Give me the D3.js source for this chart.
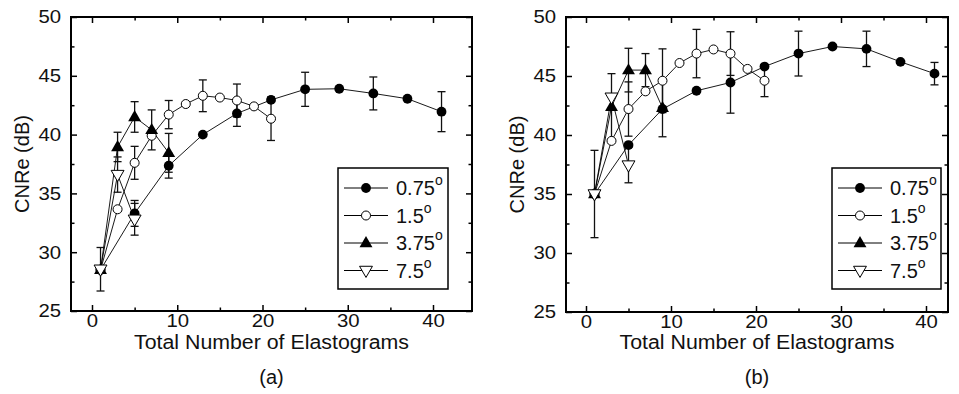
<!DOCTYPE html>
<html lang="en">
<head>
<meta charset="utf-8">
<title>CNRe vs elastograms</title>
<script src="https://cdnjs.cloudflare.com/ajax/libs/d3/7.8.5/d3.min.js"></script>
<style>
  html, body { margin: 0; padding: 0; background: #fff; }
  svg { display: block; font-family: "Liberation Sans", Arial, sans-serif; }
  .tick text { font-size: 18.5px; fill: #111; }
  .title { font-size: 20px; fill: #111; }
  .leg { font-size: 20px; fill: #111; }
</style>
</head>
<body>
<div id="chart"></div>
<script>
// ---- data ----
const xTicks = [0, 10, 20, 30, 40];
const yTicks = [25, 30, 35, 40, 45, 50];
const seriesNames = ["0.75", "1.5", "3.75", "7.5"];

const x075 = [1, 5, 9, 13, 17, 21, 25, 29, 33, 37, 41];
const x15 = [1, 3, 5, 7, 9, 11, 13, 15, 17, 19, 21];
const x375 = [1, 3, 5, 7, 9];
const x75 = [1, 3, 5];

// panel (a)
const a075 = [28.5, 33.3, 37.35, 40.0, 41.8, 42.95, 43.85, 43.9, 43.5, 43.05, 41.95];
const a075err = [null, 1.1, 1.05, null, 1.1, null, 1.45, null, 1.4, null, 1.7];
const a15 = [28.5, 33.65, 37.6, 39.9, 41.7, 42.6, 43.3, 43.15, 42.9, 42.4, 41.35];
const a15err = [null, null, 1.4, null, 1.2, null, 1.35, null, 1.4, null, 1.85];
const a375 = [28.5, 38.95, 41.5, 40.4, 38.45];
const a375err = [null, 1.25, 1.3, 1.7, 1.65];
const a75 = [28.55, 36.6, 32.8];
const a75err = [1.85, 1.5, 1.35];

// panel (b)
const b075 = [35.0, 39.15, 42.2, 43.75, 44.45, 45.8, 46.9, 47.5, 47.3, 46.2, 45.2];
const b075err = [null, null, 2.35, null, 2.6, null, 1.9, null, 1.5, null, 0.95];
const b15 = [35.0, 39.5, 42.2, 43.7, 44.6, 46.1, 46.9, 47.25, 46.9, 45.6, 44.6];
const b15err = [null, null, 2.3, null, 2.7, null, 2.05, null, 1.85, null, 1.35];
const b375 = [35.0, 42.4, 45.5, 45.5, 42.3];
const b375err = [null, 2.8, 1.85, 1.4, null];
const b75 = [35.0, 43.2, 37.45];
const b75err = [3.7, null, 1.5];

function build(xs, ys, es) {
  return xs.map(function(x, i) { return {x: x, y: ys[i], e: es[i]}; });
}

const panels = [
  {label: "(a)", left: 71, right: 472, top: 17, bottom: 311, x0: 92, x40: 433,
   legX: 338, legW: 110, ytitle: 29,
   series: [build(x075, a075, a075err), build(x15, a15, a15err),
            build(x375, a375, a375err), build(x75, a75, a75err)]},
  {label: "(b)", left: 566, right: 948, top: 17, bottom: 312, x0: 586, x40: 926,
   legX: 832, legW: 109, ytitle: 524,
   series: [build(x075, b075, b075err), build(x15, b15, b15err),
            build(x375, b375, b375err), build(x75, b75, b75err)]}
];

const W = 959, H = 394;
const svg = d3.select("#chart").append("svg")
  .attr("width", W).attr("height", H);

const triUp = d3.symbol().type(d3.symbolTriangle).size(72);

function drawMarker(g, k, cx, cy) {
  if (k === 0) {
    g.append("circle").attr("cx", cx).attr("cy", cy).attr("r", 4.9)
      .attr("fill", "#000");
  } else if (k === 1) {
    g.append("circle").attr("cx", cx).attr("cy", cy).attr("r", 4.5)
      .attr("fill", "#fff").attr("stroke", "#000").attr("stroke-width", 1);
  } else if (k === 2) {
    g.append("path").attr("d", triUp())
      .attr("transform", "translate(" + cx + "," + (cy + 0.5) + ")")
      .attr("fill", "#000");
  } else {
    g.append("path").attr("d", triUp())
      .attr("transform", "translate(" + cx + "," + (cy - 0.5) + ") rotate(180)")
      .attr("fill", "#fff").attr("stroke", "#000").attr("stroke-width", 1);
  }
}

panels.forEach(function(p) {
  const x = d3.scaleLinear().domain([0, 40]).range([p.x0, p.x40]);
  const y = d3.scaleLinear().domain([25, 50]).range([p.bottom, p.top]);
  const g = svg.append("g");

  // minor ticks
  const xMinor = d3.range(5, 45, 10).filter(function(v) { return x(v) < p.right; });
  const yMinor = d3.range(27.5, 50, 5);

  g.append("g").attr("transform", "translate(0," + p.bottom + ")")
    .call(d3.axisBottom(x).tickValues(xTicks).tickSize(-6).tickSizeOuter(0).tickPadding(3))
    .call(function(a) { a.select(".domain").remove(); });
  g.append("g").attr("transform", "translate(0," + p.bottom + ")")
    .call(d3.axisBottom(x).tickValues(xMinor).tickSize(-3.5).tickFormat("").tickSizeOuter(0))
    .call(function(a) { a.select(".domain").remove(); });
  g.append("g").attr("transform", "translate(0," + p.top + ")")
    .call(d3.axisTop(x).tickValues(xTicks).tickSize(-6).tickFormat("").tickSizeOuter(0))
    .call(function(a) { a.select(".domain").remove(); });
  g.append("g").attr("transform", "translate(0," + p.top + ")")
    .call(d3.axisTop(x).tickValues(xMinor).tickSize(-3.5).tickFormat("").tickSizeOuter(0))
    .call(function(a) { a.select(".domain").remove(); });

  g.append("g").attr("transform", "translate(" + p.left + ",0)")
    .call(d3.axisLeft(y).tickValues(yTicks).tickSize(-6).tickSizeOuter(0).tickPadding(9))
    .call(function(a) { a.select(".domain").remove(); });
  g.append("g").attr("transform", "translate(" + p.left + ",0)")
    .call(d3.axisLeft(y).tickValues(yMinor).tickSize(-3.5).tickFormat("").tickSizeOuter(0))
    .call(function(a) { a.select(".domain").remove(); });
  g.append("g").attr("transform", "translate(" + p.right + ",0)")
    .call(d3.axisRight(y).tickValues(yTicks).tickSize(-6).tickFormat("").tickSizeOuter(0))
    .call(function(a) { a.select(".domain").remove(); });
  g.append("g").attr("transform", "translate(" + p.right + ",0)")
    .call(d3.axisRight(y).tickValues(yMinor).tickSize(-3.5).tickFormat("").tickSizeOuter(0))
    .call(function(a) { a.select(".domain").remove(); });

  g.selectAll(".tick line").attr("stroke", "#000").attr("stroke-width", 1.5);
  // the printed figure's digits are a touch wider than Liberation Sans
  g.selectAll(".tick text").attr("transform", "scale(1.1,1)");

  // frame
  g.append("rect")
    .attr("x", p.left).attr("y", p.top)
    .attr("width", p.right - p.left).attr("height", p.bottom - p.top)
    .attr("fill", "none").attr("stroke", "#000").attr("stroke-width", 2);

  // titles
  const cx = (p.left + p.right) / 2;
  g.append("text").attr("class", "title").attr("x", cx).attr("y", 349)
    .attr("text-anchor", "middle")
    .attr("textLength", 275).attr("lengthAdjust", "spacingAndGlyphs")
    .text("Total Number of Elastograms");
  g.append("text").attr("class", "title").attr("x", cx).attr("y", 384)
    .attr("text-anchor", "middle").text(p.label);
  g.append("text").attr("class", "title")
    .attr("transform", "translate(" + p.ytitle + "," + ((p.top + p.bottom) / 2) + ") rotate(-90)")
    .attr("text-anchor", "middle").text("CNRe (dB)");

  // lines
  const line = d3.line().x(function(d) { return x(d.x); }).y(function(d) { return y(d.y); });
  p.series.forEach(function(s) {
    g.append("path").datum(s).attr("d", line)
      .attr("fill", "none").attr("stroke", "#000").attr("stroke-width", 0.9);
  });

  // error bars
  p.series.forEach(function(s) {
    s.filter(function(d) { return d.e != null; }).forEach(function(d) {
      const px = x(d.x), y1 = y(d.y + d.e), y2 = y(d.y - d.e);
      g.append("line").attr("x1", px).attr("x2", px).attr("y1", y1).attr("y2", y2)
        .attr("stroke", "#111").attr("stroke-width", 1.3);
      [y1, y2].forEach(function(yy) {
        g.append("line").attr("x1", px - 4).attr("x2", px + 4).attr("y1", yy).attr("y2", yy)
          .attr("stroke", "#111").attr("stroke-width", 1.3);
      });
    });
  });

  // markers
  p.series.forEach(function(s, k) {
    s.forEach(function(d) { drawMarker(g, k, x(d.x), y(d.y)); });
  });

  // legend
  const legTop = 168, legH = 121;
  g.append("rect").attr("x", p.legX).attr("y", legTop)
    .attr("width", p.legW).attr("height", legH)
    .attr("fill", "#fff").attr("stroke", "#000").attr("stroke-width", 1.5);
  seriesNames.forEach(function(name, k) {
    const ry = 188 + k * 27.5;
    g.append("line").attr("x1", p.legX + 6).attr("x2", p.legX + 50)
      .attr("y1", ry).attr("y2", ry).attr("stroke", "#000").attr("stroke-width", 1);
    drawMarker(g, k, p.legX + 28, ry);
    const t = g.append("text").attr("class", "leg").attr("x", p.legX + 58).attr("y", ry + 7);
    t.append("tspan").text(name);
    t.append("tspan").attr("dy", -10).attr("font-size", 14).text("o");
  });
});
</script>
</body>
</html>
